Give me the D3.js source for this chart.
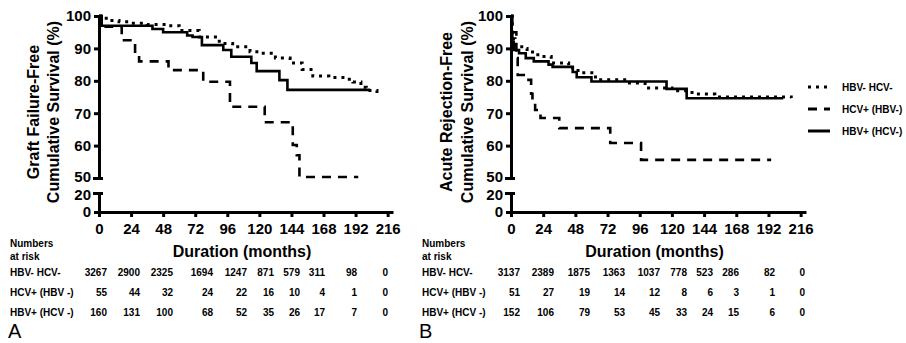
<!DOCTYPE html>
<html>
<head>
<meta charset="utf-8">
<script src="https://cdn.jsdelivr.net/npm/d3@7"></script>
<style>
  body { margin: 0; background: #fff; }
  svg { display: block; font-family: "Liberation Sans", Arial, sans-serif; }
</style>
</head>
<body>
<div id="chart"></div>
<script>
// axis ticks
var xTicks = [0, 24, 48, 72, 96, 120, 144, 168, 192, 216];
var yTicksUpper = [50, 60, 70, 80, 90, 100];
var yTicksLower = [0, 20];

// group names (table rows and legend)
var groups = ["HBV- HCV-", "HCV+ (HBV -)", "HBV+ (HCV -)"];
var legendLabels = ["HBV- HCV-", "HCV+ (HBV-)", "HBV+ (HCV-)"];

// A: graft failure-free survival, [month, %]
var graftNeither = [[0,100],[4,99.3],[8,98.6],[15,98.2],[24,97.8],[36,97.4],[51,97],[60,95.5],[75,93.5],
  [90,91.5],[100,90.5],[113,89],[120,88.5],[132,87],[143,85.5],[152,83.5],[160,81.5],[172,81],
  [185,80.5],[190,79.6],[196,78],[200,77],[208,76]];
var graftHCV = [[0,100],[2,97.5],[5,96.7],[17,92.5],[27,88.5],[30,86],[52,83.3],[78,79.7],[98,72],
  [124,67.2],[145,60.2],[148,57],[150,50.3],[194,50.3]];
var graftHBV = [[0,100],[2,97],[40,96],[48,95],[66,94],[70,93.5],[77,91],[93,89.5],[99,87.4],
  [114,85.5],[118,83],[135,80.2],[141,77.2],[203,77.2]];

// A: numbers at risk
var graftRiskNeither = [3267, 2900, 2325, 1694, 1247, 871, 579, 311, 98, 0];
var graftRiskHCV = [55, 44, 32, 24, 22, 16, 10, 4, 1, 0];
var graftRiskHBV = [160, 131, 100, 68, 52, 35, 26, 17, 7, 0];

// B: acute rejection-free survival, [month, %]
var rejectNeither = [[0,100],[1,93],[3,91],[8,90],[12,88.9],[20,87.5],[30,85.5],[43,84],[50,82.5],
  [63,80.3],[86,79.3],[100,77.8],[120,76.9],[135,75.9],[152,75],[209,74.7]];
var rejectHCV = [[0,100],[1,95],[4,87],[5,81.8],[12,80.3],[15,76],[16,73],[18,71],[22,68.5],
  [36,65.4],[74,60.8],[97,55.6],[194,55.6]];
var rejectHBV = [[0,100],[0.5,95],[1,92],[2,89.5],[6,88.5],[11,87],[17,86],[28,85],[31,84.3],
  [46,82.7],[49,81.1],[60,79.8],[116,77.5],[131,74.6],[203,74.6]];

// B: numbers at risk
var rejectRiskNeither = [3137, 2389, 1875, 1363, 1037, 778, 523, 286, 82, 0];
var rejectRiskHCV = [51, 27, 19, 14, 12, 8, 6, 3, 1, 0];
var rejectRiskHBV = [152, 106, 79, 53, 45, 33, 24, 15, 6, 0];

// line styles: dotted, dashed, solid
var dashes = ["3,5", "9,7", null];

var W = 906, H = 343;
var svg = d3.select("#chart").append("svg").attr("width", W).attr("height", H);

var yHi = d3.scaleLinear().domain([50, 100]).range([178, 16]);
var yLo = d3.scaleLinear().domain([0, 20]).range([212, 193]);
function y(v) { return v >= 50 ? yHi(v) : yLo(v); }

drawPanel({
  x0: 99, x1: 393,
  title: ["Graft Failure-Free", "Cumulative Survival (%)"],
  titleX: [39, 59],
  curves: [graftNeither, graftHCV, graftHBV],
  risk: [graftRiskNeither, graftRiskHCV, graftRiskHBV],
  colRight: [107, 140, 173, 213, 247, 274, 300, 325, 357, 388],
  labelX: 10, letter: "A", letterX: 8
});

drawPanel({
  x0: 511, x1: 806,
  title: ["Acute Rejection-Free", "Cumulative Survival (%)"],
  titleX: [452, 473],
  curves: [rejectNeither, rejectHCV, rejectHBV],
  risk: [rejectRiskNeither, rejectRiskHCV, rejectRiskHBV],
  colRight: [520, 554, 590, 625, 660, 687, 713, 739, 775, 805],
  labelX: 422, letter: "B", letterX: 419
});

drawLegend();

/**
 * one survival panel with its numbers-at-risk table
 */
function drawPanel(p) {
  var g = svg.append("g");
  var x = d3.scaleLinear().domain([0, 220]).range([p.x0, p.x1]);

  // y axis, broken between 20 and 50
  var ax1 = g.append("g").attr("transform", "translate(" + p.x0 + ",0)")
    .call(d3.axisLeft(yHi).tickValues(yTicksUpper).tickSize(5).tickPadding(3).tickSizeOuter(0));
  var ax2 = g.append("g").attr("transform", "translate(" + p.x0 + ",0)")
    .call(d3.axisLeft(yLo).tickValues(yTicksLower).tickSize(5).tickPadding(3).tickSizeOuter(0));
  var ax3 = g.append("g").attr("transform", "translate(0,212)")
    .call(d3.axisBottom(x).tickValues(xTicks).tickSize(5).tickPadding(6).tickSizeOuter(0));

  [ax1, ax2, ax3].forEach(function(a) {
    a.attr("font-family", null).attr("font-size", 15).attr("font-weight", "bold");
    a.selectAll("path, line").attr("stroke", "#000").attr("stroke-width", 3);
    a.selectAll("text").attr("fill", "#000");
  });
  // small caps at the break
  ax1.selectAll(".tick line").filter(function(d) { return d === 50; }).attr("x2", -6).attr("x1", 4);
  ax2.selectAll(".tick line").filter(function(d) { return d === 20; }).attr("x2", -6).attr("x1", 4);
  ax1.selectAll(".tick text").filter(function(d) { return d === 50; }).attr("dy", "0.2em");
  ax2.selectAll(".tick text").filter(function(d) { return d === 20; }).attr("dy", "0.45em");

  g.append("text")
    .attr("x", (p.x0 + p.x1) / 2 - 4).attr("y", 257)
    .attr("text-anchor", "middle").attr("font-size", 16).attr("font-weight", "bold")
    .text("Duration (months)");

  p.title.forEach(function(t, i) {
    g.append("text")
      .attr("transform", "translate(" + p.titleX[i] + ",112) rotate(-90)")
      .attr("text-anchor", "middle").attr("font-size", 16).attr("font-weight", "bold")
      .text(t);
  });

  // curves
  var line = d3.line()
    .x(function(d) { return x(d[0]); })
    .y(function(d) { return y(d[1]); })
    .curve(d3.curveStepAfter);

  [1, 2, 0].forEach(function(i) {
    g.append("path")
      .datum(p.curves[i])
      .attr("d", line)
      .attr("fill", "none")
      .attr("stroke", "#000")
      .attr("stroke-width", i === 0 ? 3 : 2.6)
      .attr("stroke-dasharray", dashes[i]);
  });

  // numbers at risk
  var tbl = g.append("g").attr("font-size", 10).attr("font-weight", "bold");
  tbl.append("text").attr("x", p.labelX).attr("y", 247).text("Numbers");
  tbl.append("text").attr("x", p.labelX).attr("y", 260).text("at risk");

  var rowY = [276, 296, 316];
  groups.forEach(function(name, i) {
    tbl.append("text").attr("x", p.labelX).attr("y", rowY[i]).text(name);
    tbl.selectAll(null).data(p.risk[i]).enter().append("text")
      .attr("x", function(d, j) { return p.colRight[j]; })
      .attr("y", rowY[i])
      .attr("text-anchor", "end")
      .text(function(d) { return d; });
  });

  g.append("text").attr("x", p.letterX).attr("y", 338)
    .attr("font-size", 20).text(p.letter);
}

function drawLegend() {
  var lg = svg.append("g").attr("font-size", 10).attr("font-weight", "bold");
  var ly = [87, 109, 131];
  legendLabels.forEach(function(t, i) {
    lg.append("line")
      .attr("x1", 808).attr("x2", 830).attr("y1", ly[i]).attr("y2", ly[i])
      .attr("stroke", "#000").attr("stroke-width", 3)
      .attr("stroke-dasharray", dashes[i]);
    lg.append("text").attr("x", 842).attr("y", ly[i] + 4).text(t);
  });
}
</script>
</body>
</html>
